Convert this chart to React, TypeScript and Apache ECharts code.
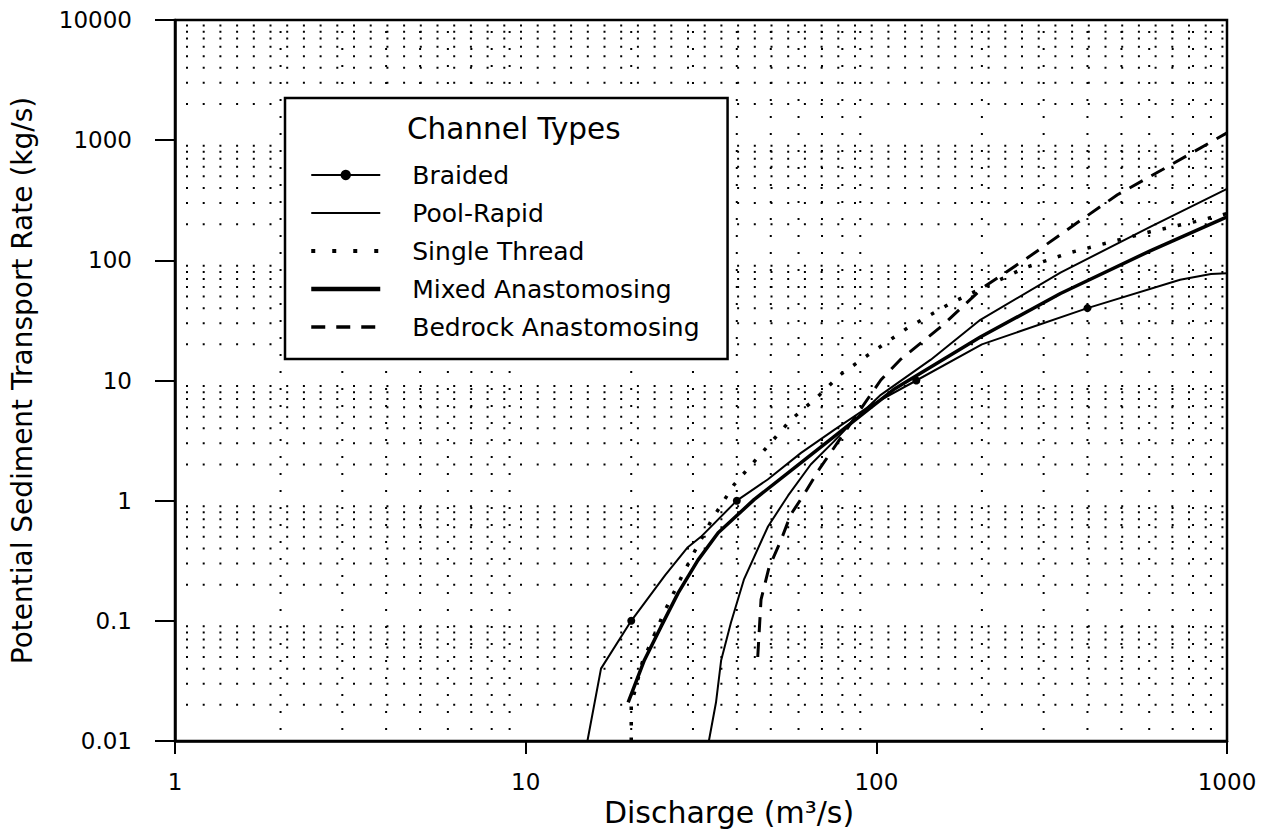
import React, { useEffect, useRef } from 'react';
import * as echarts from 'echarts';

const FONT = '"DejaVu Sans", "Liberation Sans", sans-serif';

const X_MIN = 1;
const X_MAX = 1000;
const Y_MIN = 0.01;
const Y_MAX = 10000;

const seriesNames = ['Braided', 'Pool-Rapid', 'Single Thread', 'Mixed Anastomosing', 'Bedrock Anastomosing'];

// Braided: [discharge, rate]; markers drawn at the listed discharges
const braided: [number, number][] = [
  [15, 0.01], [16.4, 0.04], [20, 0.1], [25, 0.24], [29, 0.41], [31.6, 0.5], [40, 1],
  [49, 1.5], [61, 2.5], [76, 3.9], [95, 6.05], [130, 10], [200, 20], [400, 40],
  [735, 69], [900, 77], [1000, 78],
];
const braidedMarkers = [20, 40, 130, 400];

const poolRapid: [number, number][] = [
  [33.3, 0.01], [34.9, 0.021], [36.1, 0.047], [38.5, 0.097], [41.9, 0.22], [49.1, 0.61],
  [56, 1.1], [65, 2.0], [75.6, 3.1], [88.5, 5.0], [103, 7.6], [143, 14.9], [198, 32],
  [335, 79], [604, 190], [1000, 394],
];

const singleThread: [number, number][] = [
  [20, 0.01], [20, 0.02], [21.5, 0.045], [24.8, 0.117], [27.4, 0.212], [30.2, 0.37],
  [34, 0.7], [39.3, 1.36], [46, 2.3], [57, 4.7], [68, 7.3], [79, 11.2], [95, 16.4],
  [123, 27.5], [163, 44], [266, 87], [357, 116], [604, 173], [811, 210], [1000, 245],
];

const mixedAnastomosing: [number, number][] = [
  [19.6, 0.021], [21.8, 0.047], [24.3, 0.089], [27.2, 0.17], [31, 0.32], [35.4, 0.54],
  [44.8, 1.02], [61, 2.07], [75.6, 3.4], [94.6, 5.7], [112, 8.4], [198, 23], [335, 53],
  [604, 120], [1000, 230],
];

const bedrockAnastomosing: [number, number][] = [
  [45.9, 0.05], [46.9, 0.15], [49.4, 0.277], [53.5, 0.47], [57, 0.765], [62.1, 1.12],
  [68.6, 1.81], [85, 4.5], [103, 10.1], [117, 14.9], [155, 29], [201, 59], [270, 105],
  [357, 187], [487, 351], [653, 567], [1000, 1150],
];

const xMinorGrid = [
  2, 3, 4, 5, 6, 7, 8, 9,
  20, 30, 40, 50, 60, 70, 80, 90,
  200, 300, 400, 500, 600, 700, 800, 900,
];
const yMinorGrid = [
  0.02, 0.03, 0.04, 0.05, 0.06, 0.07, 0.08, 0.09,
  0.2, 0.3, 0.4, 0.5, 0.6, 0.7, 0.8, 0.9,
  2, 3, 4, 5, 6, 7, 8, 9,
  20, 30, 40, 50, 60, 70, 80, 90,
  200, 300, 400, 500, 600, 700, 800, 900,
  2000, 3000, 4000, 5000, 6000, 7000, 8000, 9000,
];

const fmt = (v: number) => String(+Number(v).toPrecision(6));

export default function App() {
  const ref = useRef<HTMLDivElement>(null);

  useEffect(() => {
    if (!ref.current) return;
    const chart = echarts.init(ref.current, undefined, { renderer: 'svg' });

    const baseLine = {
      type: 'line',
      symbol: 'none',
      smooth: false,
      silent: true,
      z: 3,
      itemStyle: { color: '#000' },
    };

    const option: any = {
      animation: false,
      backgroundColor: '#fff',
      grid: {
        left: 173, right: 39, top: 20, bottom: 99,
        show: true, borderColor: '#000', borderWidth: 2.5, backgroundColor: 'transparent',
      },
      xAxis: {
        type: 'log', logBase: 10, min: X_MIN, max: X_MAX,
        name: 'Discharge (m³/s)', nameLocation: 'middle', nameGap: 37,
        nameTextStyle: { fontFamily: FONT, fontSize: 30, color: '#000', padding: [0, 0, 0, 56] },
        axisLine: { show: true, lineStyle: { color: '#000', width: 2.5 } },
        axisTick: { show: true, length: 13, lineStyle: { color: '#000', width: 2 } },
        axisLabel: { formatter: fmt, fontFamily: FONT, fontSize: 23, color: '#000', margin: 29 },
        splitLine: { show: false },
        minorTick: { show: false },
      },
      yAxis: {
        type: 'log', logBase: 10, min: Y_MIN, max: Y_MAX,
        name: 'Potential Sediment Transport Rate (kg/s)', nameLocation: 'middle', nameGap: 131,
        nameTextStyle: { fontFamily: FONT, fontSize: 28, color: '#000', padding: [0, 0, 8, 0] },
        axisLine: { show: true, lineStyle: { color: '#000', width: 2.5 } },
        axisTick: { show: true, length: 20, lineStyle: { color: '#000', width: 2 } },
        axisLabel: { formatter: fmt, fontFamily: FONT, fontSize: 23, color: '#000', margin: 43 },
        splitLine: { show: false },
      },
      legend: {
        left: 285, top: 98, orient: 'vertical',
        padding: [62, 28, 17, 24],
        itemWidth: 69, itemHeight: 13, itemGap: 8,
        backgroundColor: '#fff', borderColor: '#000', borderWidth: 2.5, borderRadius: 0,
        selectedMode: false,
        textStyle: { fontFamily: FONT, fontSize: 25, color: '#000', lineHeight: 30, padding: [0, 0, 0, 27] },
        data: [
          { name: seriesNames[0], lineStyle: { width: 2 } },
          { name: seriesNames[1], itemStyle: { opacity: 0 }, lineStyle: { width: 2 } },
          { name: seriesNames[2], itemStyle: { opacity: 0 }, lineStyle: { width: 4, type: [4, 17] } },
          { name: seriesNames[3], itemStyle: { opacity: 0 }, lineStyle: { width: 4.5 } },
          { name: seriesNames[4], itemStyle: { opacity: 0 }, lineStyle: { width: 3.5, type: [14, 11] } },
        ],
      },
      graphic: [
        {
          type: 'text', x: 407, y: 129, z: 100,
          style: { text: 'Channel Types', fontFamily: FONT, fontSize: 29.5, fill: '#000', verticalAlign: 'middle', align: 'left' },
        },
      ],
      series: [
        {
          type: 'custom', name: 'vgrid', coordinateSystem: 'cartesian2d', silent: true, z: 1,
          data: xMinorGrid.map((v) => [v, Y_MIN]),
          renderItem: (_p: any, api: any) => {
            const x = api.value(0);
            const a = api.coord([x, Y_MIN]);
            const b = api.coord([x, Y_MAX]);
            return {
              type: 'line',
              shape: { x1: a[0], y1: a[1], x2: b[0], y2: b[1] },
              style: { stroke: '#000', lineWidth: 2, lineDash: [2, 15], lineDashOffset: -11 },
            };
          },
        },
        {
          type: 'custom', name: 'hgrid', coordinateSystem: 'cartesian2d', silent: true, z: 1,
          data: yMinorGrid.map((v) => [X_MIN, v]),
          renderItem: (_p: any, api: any) => {
            const y = api.value(1);
            const a = api.coord([X_MIN, y]);
            const b = api.coord([X_MAX, y]);
            return {
              type: 'line',
              shape: { x1: a[0], y1: a[1], x2: b[0], y2: b[1] },
              style: { stroke: '#000', lineWidth: 2, lineDash: [2, 14.7], lineDashOffset: -11 },
            };
          },
        },
        {
          ...baseLine,
          name: seriesNames[0],
          symbol: 'circle',
          symbolSize: 8,
          showSymbol: true,
          showAllSymbol: true,
          lineStyle: { color: '#000', width: 2 },
          data: braided.map((p) => ({
            value: p,
            symbol: braidedMarkers.indexOf(p[0]) >= 0 ? 'circle' : 'none',
          })),
        },
        {
          ...baseLine,
          name: seriesNames[1],
          lineStyle: { color: '#000', width: 2 },
          data: poolRapid,
        },
        {
          ...baseLine,
          name: seriesNames[2],
          lineStyle: { color: '#000', width: 3.5, type: [3.5, 12], cap: 'butt' },
          data: singleThread,
        },
        {
          ...baseLine,
          name: seriesNames[3],
          lineStyle: { color: '#000', width: 3.5 },
          data: mixedAnastomosing,
        },
        {
          ...baseLine,
          name: seriesNames[4],
          lineStyle: { color: '#000', width: 3, type: [15, 10] },
          data: bedrockAnastomosing,
        },
      ],
    };

    chart.setOption(option);
    return () => chart.dispose();
  }, []);

  return (
    <div
      ref={ref}
      style={{ position: 'absolute', left: 0, top: 0, width: 1266, height: 840, background: '#fff' }}
    />
  );
}
